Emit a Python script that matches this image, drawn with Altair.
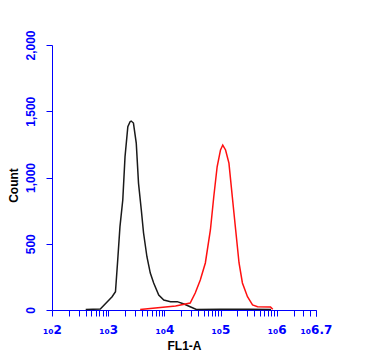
import math
import altair as alt
import pandas as pd

# Exponent (log10 of FL1-A) and count
black_x = [2.60, 2.86, 3.07, 3.13, 3.17, 3.21, 3.26, 3.30, 3.35, 3.39, 3.41, 3.45, 3.50,
           3.54, 3.59, 3.63, 3.69, 3.75, 3.81, 3.90, 3.99, 4.11, 4.23, 4.35, 4.46, 4.57,
           5.00, 5.50, 5.90]
black_y = [3, 8, 100, 138, 377, 629, 830, 1157, 1383, 1421, 1426, 1411, 1260,
           958, 755, 581, 402, 279, 204, 113, 75, 63, 63, 45, 25, 4,
           6, 5, 3]

red_x = [3.57, 4.20, 4.46, 4.55, 4.64, 4.73, 4.82, 4.88, 4.94, 5.00, 5.04, 5.09, 5.15,
         5.21, 5.27, 5.33, 5.39, 5.48, 5.57, 5.66, 5.89, 5.93]
red_y = [3, 30, 53, 128, 226, 355, 604, 855, 1081, 1208, 1245, 1208, 1109,
         855, 604, 355, 204, 100, 38, 25, 23, 5]

major_ticks = [2, 3, 4, 5, 6, 6.7]
y_ticks = [0, 500, 1000, 1500, 2000]

# log-scale tick positions (minor ticks 2..9 within each decade)
tick_vals = []
for d in [2, 3, 4, 5, 6]:
    for k in range(1, 10):
        v = d + math.log10(k)
        if v <= 6.7 + 1e-9:
            tick_vals.append(round(v, 5))
tick_vals.append(6.7)

rows = [{"e": x, "c": y, "s": "black"} for x, y in zip(black_x, black_y)]
rows += [{"e": x, "c": y, "s": "red"} for x, y in zip(red_x, red_y)]
df = pd.DataFrame(rows)

BLUE = "#0000ff"
major_js = "[" + ",".join(str(v) for v in major_ticks) + "]"

x_enc = alt.X(
    "e:Q",
    scale=alt.Scale(domain=[2, 6.7], nice=False, zero=False),
    axis=alt.Axis(
        values=tick_vals,
        format=".1~f",
        labelExpr=f"indexof({major_js}, datum.value) >= 0 ? '\u2081\u2080' + datum.label : ''",
        title="FL1-A",
        grid=False,
        domainColor=BLUE,
        tickColor=BLUE,
        tickSize=6,
        labelColor=BLUE,
        labelFont="DejaVu Sans",
        labelFontSize=12,
        labelFontWeight="bold",
        labelFlush=False,
        labelOverlap=False,
        labelPadding=8,
        titleColor="black",
        titleFont="Liberation Sans",
        titleFontSize=12,
        titleFontWeight="bold",
        titlePadding=5,
    ),
)

y_enc = alt.Y(
    "c:Q",
    scale=alt.Scale(domain=[0, 2000], nice=False),
    axis=alt.Axis(
        values=y_ticks,
        format=",d",
        grid=False,
        domainColor=BLUE,
        tickColor=BLUE,
        tickSize=6,
        labelColor=BLUE,
        labelAngle=270,
        labelAlign="center",
        labelBaseline="bottom",
        labelFont="Liberation Sans",
        labelFontSize=12,
        labelFontWeight="bold",
        labelPadding=9,
        title="Count",
        titleColor="black",
        titleFont="Liberation Sans",
        titleFontSize=12,
        titleFontWeight="bold",
        titleAngle=270,
        titleAlign="center",
        titleBaseline="middle",
        titleX=-39,
        titleY=140,
    ),
)

chart = (
    alt.Chart(df)
    .mark_line(strokeWidth=1.5, interpolate="linear")
    .encode(
        x=x_enc,
        y=y_enc,
        color=alt.Color("s:N", scale=alt.Scale(domain=["black", "red"], range=["#1a1a1a", "#ff1010"]), legend=None),
        order=alt.Order("e:Q"),
    )
    .properties(
        width=264,
        height=265,
        autosize=alt.AutoSizeParams(type="none"),
        padding={"left": 44, "top": 37, "right": 42, "bottom": 41},
        background="white",
    )
    .configure_view(stroke=None)
)

chart.save("out.html", embed_options={"renderer": "svg", "actions": False})
